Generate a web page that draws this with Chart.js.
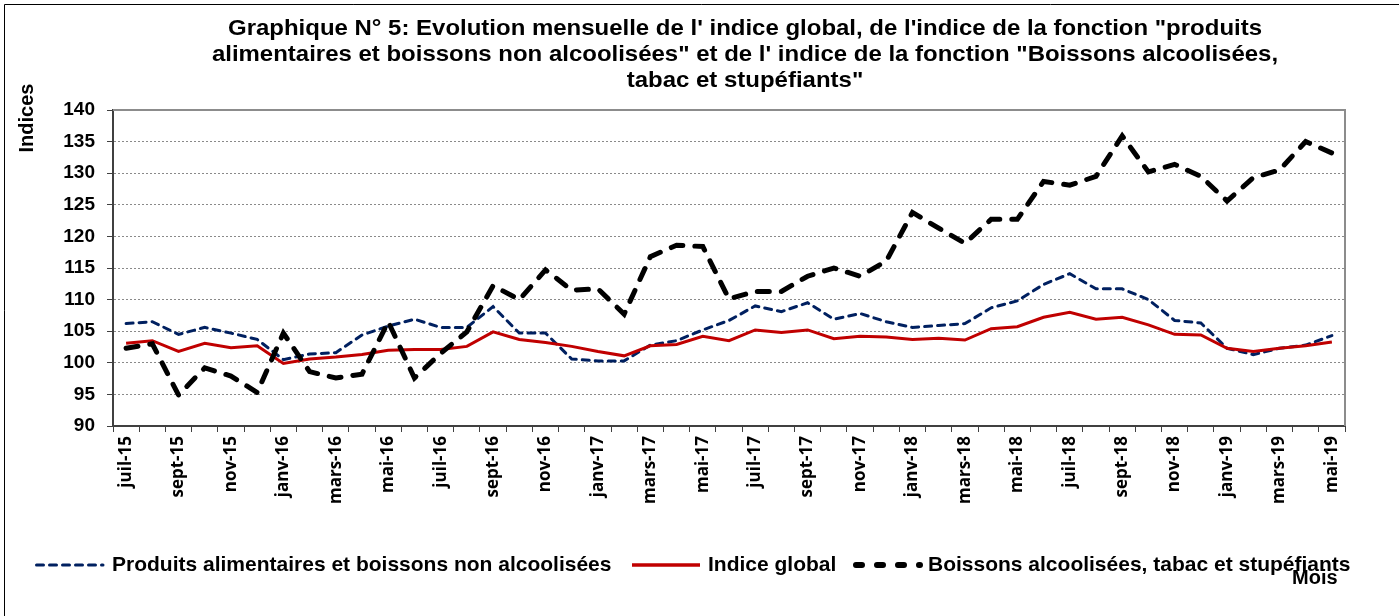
<!DOCTYPE html>
<html>
<head>
<meta charset="utf-8">
<script src="https://cdn.jsdelivr.net/npm/chart.js@4/dist/chart.umd.min.js"></script>
<style>
	html, body { margin: 0; padding: 0; background: #fff; }
	canvas { display: block; }
</style>
</head>
<body>
<canvas id="chart" width="1399" height="616"></canvas>
<script>
const months = [
	"juil-15", "août-15", "sept-15", "oct-15", "nov-15", "déc-15",
	"janv-16", "févr-16", "mars-16", "avr-16", "mai-16", "juin-16",
	"juil-16", "août-16", "sept-16", "oct-16", "nov-16", "déc-16",
	"janv-17", "févr-17", "mars-17", "avr-17", "mai-17", "juin-17",
	"juil-17", "août-17", "sept-17", "oct-17", "nov-17", "déc-17",
	"janv-18", "févr-18", "mars-18", "avr-18", "mai-18", "juin-18",
	"juil-18", "août-18", "sept-18", "oct-18", "nov-18", "déc-18",
	"janv-19", "févr-19", "mars-19", "avr-19", "mai-19"
];

const produitsAlimentaires = [
	106.2, 106.5, 104.5, 105.6, 104.7, 103.7, 100.5, 101.4, 101.6, 104.4, 105.8, 106.9,
	105.6, 105.6, 108.9, 104.7, 104.7, 100.6, 100.3, 100.3, 102.8, 103.5, 105.2, 106.7,
	109.0, 108.1, 109.5, 106.9, 107.8, 106.5, 105.6, 105.9, 106.2, 108.7, 109.8, 112.4,
	114.1, 111.7, 111.7, 110.0, 106.7, 106.3, 102.3, 101.3, 102.3, 102.8, 104.3
];

const indiceGlobal = [
	103.1, 103.5, 101.8, 103.1, 102.4, 102.7, 99.9, 100.6, 100.9, 101.3, 102.0, 102.1,
	102.1, 102.6, 104.9, 103.7, 103.2, 102.6, 101.8, 101.1, 102.7, 102.9, 104.2, 103.5,
	105.2, 104.8, 105.2, 103.8, 104.2, 104.1, 103.7, 103.9, 103.6, 105.4, 105.7, 107.2,
	108.0, 106.9, 107.2, 106.0, 104.5, 104.4, 102.3, 101.8, 102.3, 102.7, 103.3
];

const boissonsAlcoolisees = [
	102.3, 103.0, 94.9, 99.2, 97.9, 95.3, 104.7, 98.6, 97.6, 98.2, 106.5, 97.6,
	101.5, 104.9, 112.2, 110.0, 114.7, 111.5, 111.7, 107.7, 116.8, 118.6, 118.4, 110.1,
	111.3, 111.3, 113.7, 115.0, 113.7, 116.1, 123.8, 121.3, 118.9, 122.7, 122.7, 128.7,
	128.1, 129.5, 135.9, 130.2, 131.4, 129.5, 125.6, 129.3, 130.5, 135.0, 133.2
];

const seriesNames = [
	"Produits alimentaires et boissons non alcoolisées",
	"Indice global",
	"Boissons alcoolisées, tabac et stupéfiants"
];

const titleLines = [
	"Graphique N° 5: Evolution mensuelle de l' indice global, de l'indice de la fonction \"produits",
	"alimentaires et boissons non alcoolisées\" et de l' indice de la fonction \"Boissons alcoolisées,",
	"tabac et stupéfiants\""
];

const ARIAL = "'Liberation Sans', Arial, sans-serif";

// titles, frame and legend are drawn by hand, like the original sheet
const decor = {
	id: "decor",
	beforeDraw: (chart) => {
		const ctx = chart.ctx;
		ctx.save();
		ctx.fillStyle = "#fff";
		ctx.fillRect(0, 0, chart.width, chart.height);
		ctx.restore();
	},
	beforeDatasetsDraw: (chart) => {
		const ctx = chart.ctx;
		const a = chart.chartArea;
		ctx.save();
		ctx.strokeStyle = "#8c8c8c";
		ctx.lineWidth = 2;
		ctx.beginPath();
		ctx.moveTo(a.left, a.top);
		ctx.lineTo(a.right, a.top);
		ctx.lineTo(a.right, a.bottom);
		ctx.stroke();
		ctx.restore();
	},
	afterDraw: (chart) => {
		const ctx = chart.ctx;
		ctx.save();

		// outer frame (only left and top are inside the picture)
		ctx.strokeStyle = "#000";
		ctx.lineWidth = 1;
		ctx.beginPath();
		ctx.moveTo(4.5, chart.height);
		ctx.lineTo(4.5, 4.5);
		ctx.lineTo(chart.width, 4.5);
		ctx.stroke();

		// title, a bit wide in the original
		ctx.fillStyle = "#000";
		ctx.font = "bold 22px " + ARIAL;
		ctx.textAlign = "center";
		ctx.textBaseline = "middle";
		const sx = 1034 / ctx.measureText(titleLines[0]).width;
		titleLines.forEach((line, i) => {
			ctx.save();
			ctx.translate(745, 29 + i * 26);
			ctx.scale(sx, 1);
			ctx.fillText(line, 0, 0);
			ctx.restore();
		});

		// y axis title
		ctx.save();
		ctx.translate(27, 118);
		ctx.rotate(-Math.PI / 2);
		ctx.font = "bold 20px " + ARIAL;
		ctx.fillText("Indices", 0, 0);
		ctx.restore();

		// legend
		const y = 565;
		const samples = [
			{ x0: 35, x1: 103, tx: 112, color: "#002060", width: 3, dash: [7, 6] },
			{ x0: 632, x1: 700, tx: 708, color: "#c00000", width: 3.5, dash: [] },
			{ x0: 853, x1: 920, tx: 928, color: "#000", width: 6, dash: [6, 15] }
		];
		samples.forEach((s, i) => {
			ctx.beginPath();
			ctx.strokeStyle = s.color;
			ctx.lineWidth = s.width;
			ctx.lineCap = s.dash.length ? "round" : "butt";
			ctx.setLineDash(s.dash);
			ctx.moveTo(s.x0 + (s.dash.length ? s.width / 2 : 0), y);
			ctx.lineTo(s.x1, y);
			ctx.stroke();
			ctx.setLineDash([]);
			ctx.font = "bold 21px " + ARIAL;
			ctx.textAlign = "left";
			ctx.fillStyle = "#000";
			ctx.fillText(seriesNames[i], s.tx, y);
		});

		// x axis title, sits over the legend as in the original
		ctx.font = "bold 20px " + ARIAL;
		ctx.textAlign = "left";
		ctx.fillText("Mois", 1292, 578);

		ctx.restore();
	}
};

const chart = new Chart(document.getElementById("chart"), {
	type: "line",
	data: {
		labels: months,
		datasets: [
			{
				label: seriesNames[0],
				data: produitsAlimentaires,
				borderColor: "#002060",
				borderWidth: 3,
				borderDash: [7, 6],
				borderCapStyle: "round",
				order: 3
			},
			{
				label: seriesNames[1],
				data: indiceGlobal,
				borderColor: "#c00000",
				borderWidth: 3,
				order: 2
			},
			{
				label: seriesNames[2],
				data: boissonsAlcoolisees,
				borderColor: "#000",
				borderWidth: 5,
				borderDash: [12, 12],
				borderCapStyle: "round",
				order: 1
			}
		]
	},
	options: {
		responsive: false,
		animation: false,
		devicePixelRatio: 1,
		elements: {
			point: { radius: 0, hoverRadius: 0 },
			line: { tension: 0, fill: false }
		},
		layout: { padding: { left: 0, top: 110, right: 54, bottom: 0 } },
		plugins: {
			legend: { display: false },
			title: { display: false },
			tooltip: { enabled: false }
		},
		scales: {
			x: {
				type: "category",
				offset: true,
				afterFit: (scale) => { scale.height = 190; },
				grid: {
					offset: true,
					drawOnChartArea: false,
					drawTicks: true,
					tickLength: 6,
					tickColor: "#404040",
					tickWidth: 1
				},
				border: { display: true, color: "#404040", width: 2 },
				ticks: {
					autoSkip: false,
					maxRotation: 90,
					minRotation: 90,
					padding: 4,
					color: "#000",
					font: { family: "'Open Sans', sans-serif", size: 17, weight: "bold" },
					callback: function (val, index) {
						return index % 2 === 0 ? this.getLabelForValue(val) : "";
					}
				}
			},
			y: {
				min: 90,
				max: 140,
				afterFit: (scale) => { scale.width = 113; },
				grid: {
					color: "#8a8a8a",
					lineWidth: 1,
					drawTicks: true,
					tickLength: 6,
					tickColor: "#404040",
					tickBorderDash: []
				},
				border: { display: true, color: "#404040", width: 2, dash: [2, 2] },
				ticks: {
					stepSize: 5,
					padding: 12,
					color: "#000",
					font: { family: ARIAL, size: 19, weight: "bold" }
				}
			}
		}
	},
	plugins: [decor]
});
</script>
</body>
</html>
